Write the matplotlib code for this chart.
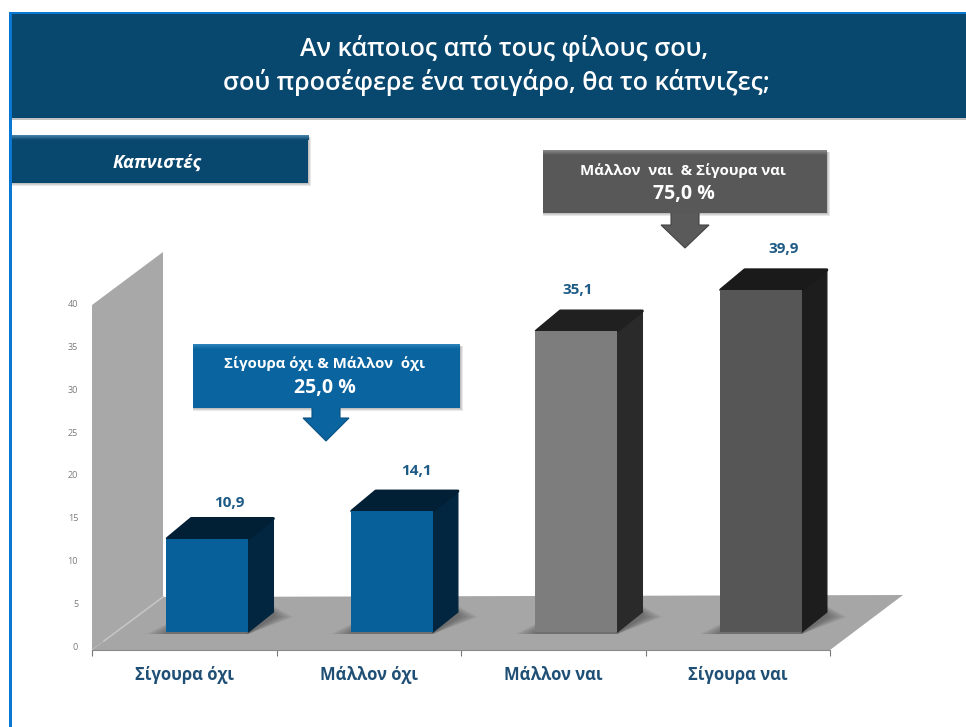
import numpy as np
import matplotlib
matplotlib.use("Agg")
import matplotlib.pyplot as plt
from matplotlib.patches import Polygon, Rectangle
from matplotlib.transforms import ScaledTranslation

categories = ["Σίγουρα όχι", "Μάλλον όχι", "Μάλλον ναι", "Σίγουρα ναι"]
values = [10.9, 14.1, 35.1, 39.9]
value_labels = ["10,9", "14,1", "35,1", "39,9"]
y_ticks = [0, 5, 10, 15, 20, 25, 30, 35, 40]
title_lines = ["Αν κάποιος από τους φίλους σου,", "σού προσέφερε ένα τσιγάρο, θα το κάπνιζες;"]
group_label = "Καπνιστές"
callout_low = ["Σίγουρα όχι & Μάλλον  όχι", "25,0 %"]
callout_high = ["Μάλλον  ναι  & Σίγουρα ναι", "75,0 %"]

front_colors = ["#07609a", "#07609a", "#7d7d7d", "#565656"]
side_colors = ["#02263f", "#02263f", "#2a2a2a", "#1d1d1d"]
top_colors = ["#011f35", "#011f35", "#202020", "#1a1a1a"]
label_shift = [(22, -5), (25, -1), (1, 0), (23, 0)]

plt.rcParams["font.family"] = ["Open Sans", "DejaVu Sans"]
W, H = 966, 727
fig = plt.figure(figsize=(W / 100, H / 100), dpi=100, facecolor="white")

# page furniture, in pixel coordinates
bg = fig.add_axes([0, 0, 1, 1], zorder=0)
bg.set_xlim(0, W)
bg.set_ylim(H, 0)
bg.axis("off")


def vgrad(ax, x0, x1, y0, y1, c0, c1, z=1):
    a = np.array(matplotlib.colors.to_rgba(c0))
    b = np.array(matplotlib.colors.to_rgba(c1))
    t = np.linspace(0, 1, 64)[:, None, None]
    img = a[None, None, :] * (1 - t) + b[None, None, :] * t
    ax.imshow(img, extent=(x0, x1, y1, y0), aspect="auto", zorder=z, interpolation="bilinear")
    ax.set_xlim(0, W)
    ax.set_ylim(H, 0)


def box(x0, x1, y0, y1, base, light):
    for i in range(3, 0, -1):
        bg.add_patch(Rectangle((x0, y0 + 2), x1 - x0 + i, y1 - y0 - 2 + i,
                               fc="black", ec="none", alpha=0.09, zorder=2))
    vgrad(bg, x0, x1, y0, y0 + 5, light, base, z=3)
    bg.add_patch(Rectangle((x0, y0 + 5), x1 - x0, y1 - y0 - 5, fc=base, ec="none", zorder=3))


def arrow(cx, y0, y1, y2, shaft, head, color, edge):
    pts = [(cx - shaft, y0), (cx + shaft, y0), (cx + shaft, y1), (cx + head, y1),
           (cx, y2), (cx - head, y1), (cx - shaft, y1)]
    bg.add_patch(Polygon(pts, closed=True, fc=color, ec=edge, lw=0.8, zorder=2.5))


# header
bg.add_patch(Rectangle((11, 118), W - 11, 2, fc="#9a9a9a", ec="none", alpha=0.6, zorder=1))
bg.add_patch(Rectangle((11, 14), W - 11, 104, fc="#08476e", ec="none", zorder=2))
bg.add_patch(Rectangle((9, 11.5), W - 9, 2.5, fc="#0a78d2", ec="none", zorder=3))
bg.add_patch(Rectangle((9, 11.5), 2.5, H - 11.5, fc="#0a78d2", ec="none", zorder=3))
bg.text(504, 49, title_lines[0], color="white", fontsize=18.2, fontweight="semibold",
        ha="center", va="center", zorder=5)
bg.text(496, 83, title_lines[1], color="white", fontsize=18.2, fontweight="semibold",
        ha="center", va="center", zorder=5)

# group tag
box(11.5, 308, 135, 183, "#08476e", "#4a87ab")
bg.text(157, 163, group_label, color="white", fontsize=13, fontstyle="italic",
        fontweight="bold", ha="center", va="center", zorder=5)

# callouts
arrow(326, 405, 418, 441, 14, 23, "#0a649f", "#0a5280")
box(193, 460, 344, 408, "#0a649f", "#2f86bd")
bg.text(325, 364, callout_low[0], color="white", fontsize=10.8, fontweight="bold",
        ha="center", va="center", zorder=5)
bg.text(325, 388, callout_low[1], color="white", fontsize=14, fontweight="bold",
        ha="center", va="center", zorder=5)

arrow(685, 210, 225, 248, 14, 24, "#5a5a5a", "#444444")
box(543, 827, 150, 213, "#585858", "#8c8c8c")
bg.text(683, 171, callout_high[0], color="white", fontsize=10.8, fontweight="bold",
        ha="center", va="center", zorder=5)
bg.text(684, 194, callout_high[1], color="white", fontsize=14, fontweight="bold",
        ha="center", va="center", zorder=5)

# chart axes: x in categories, y in percent
ax = fig.add_axes([92 / W, 1 - 650 / H, 738 / W, 343 / H], zorder=1)
ax.patch.set_alpha(0)
ax.set_xlim(0, 4)
ax.set_ylim(0, 40)
PX = 4 / 738.0
PY = 40 / 343.0

wall_dx, wall_dy = 71 * PX, 53 * PY
wall_top = 345 * PY
ax.add_patch(Polygon([(0, 0), (wall_dx, wall_dy), (wall_dx, wall_top + wall_dy), (0, wall_top)],
                     closed=True, fc="#a8a8a8", ec="none", clip_on=False, zorder=1))
ax.add_patch(Polygon([(0, 0), (4, 0), (4 + 73 * PX, 55 * PY), (wall_dx, wall_dy)],
                     closed=True, fc="#a6a6a6", ec="none", clip_on=False, zorder=1.1))
ax.plot([12 * PX, wall_dx], [9 * PY, wall_dy], color="#c4c4c4", lw=1.2, clip_on=False, zorder=1.2)

bar_w = 82 * PX
base = 18 * PY
dx, dy = 25 * PX, 20 * PY
centers = np.arange(len(values)) + 0.625

# soft floor shadows
for x in centers:
    l, r = x - bar_w / 2, x + bar_w / 2
    for g in [20, 17, 14, 11, 8, 5, 2]:
        ax.add_patch(Polygon([(l - g * PX, base - 2 * PY),
                              (r, base - 2 * PY),
                              (r + dx + g * PX, base + dy * 0.75),
                              (r + dx, base + dy + g * 0.3 * PY),
                              (l + dx, base + dy)],
                             closed=True, fc="black", ec="none", alpha=0.05,
                             clip_on=False, zorder=1.5))

ax.bar(centers, values, bottom=base, width=bar_w, color=front_colors, edgecolor="none",
       zorder=3, clip_on=False)

for x, v, side, top in zip(centers, values, side_colors, top_colors):
    l, r = x - bar_w / 2, x + bar_w / 2
    t = base + v
    ax.add_patch(Polygon([(r, base), (r + dx, base + dy), (r + dx, t + dy), (r, t)],
                         closed=True, fc=side, ec=side, lw=1, joinstyle="round",
                         clip_on=False, zorder=2.5))
    ax.add_patch(Polygon([(l + 1 * PX, t), (r, t), (r + dx, t + dy), (l + dx, t + dy)],
                         closed=True, fc=top, ec=top, lw=2.2, joinstyle="round",
                         clip_on=False, zorder=2.6))

for x, v, s, (ox, oy) in zip(centers, values, value_labels, label_shift):
    ax.annotate(s, (x, base + v + dy), xytext=(ox * 0.72, 15 + oy * 0.72), textcoords="offset points",
                ha="center", va="center", fontsize=11, fontweight="bold", color="#1d5a85",
                annotation_clip=False, zorder=6)

for sp in ["top", "right", "left"]:
    ax.spines[sp].set_visible(False)
ax.spines["bottom"].set_color("#8a8a8a")
ax.spines["bottom"].set_linewidth(0.8)

ax.set_xticks(range(5))
ax.set_xticklabels([""] * 5)
ax.tick_params(axis="x", which="major", length=4, width=0.8, color="#777777")
ax.set_xticks(np.arange(len(categories)) + 0.5, minor=True)
ax.set_xticklabels(categories, minor=True, fontsize=12, fontweight="bold", color="#1f4f75")
ax.tick_params(axis="x", which="minor", length=0, pad=21.5)
for lab in ax.get_xticklabels(minor=True):
    lab.set_verticalalignment("baseline")

ax.set_yticks(y_ticks)
ax.tick_params(axis="y", length=0, pad=10, labelsize=6.5, labelcolor="#7a7a7a")
shift = ScaledTranslation(0, 3.5 / 100, fig.dpi_scale_trans)
for lab in ax.get_yticklabels():
    lab.set_transform(lab.get_transform() + shift)

fig.savefig("out.png", dpi=100, facecolor="white")
